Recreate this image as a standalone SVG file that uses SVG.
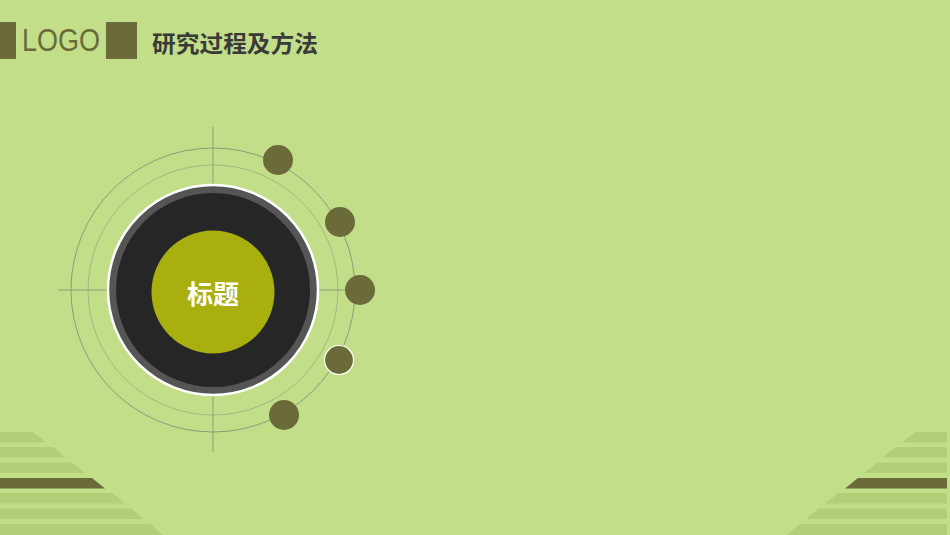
<svg xmlns="http://www.w3.org/2000/svg" width="950" height="535" viewBox="0 0 950 535">
<style>
.stripe{fill:#B4CE78}
.dark{fill:#6B6B3A}
.thin{fill:none;stroke:#8C9C7C;stroke-width:1}
.dot{fill:#6B6B3A}
</style>
<rect width="950" height="535" fill="#C2DE88"/>
<g id="header">
<rect x="0" y="22" width="16" height="37" class="dark"/>
<text x="22" y="51" font-family="'Liberation Sans', sans-serif" font-size="31" fill="#6B6B3A" textLength="78" lengthAdjust="spacingAndGlyphs">LOGO</text>
<rect x="106" y="22" width="31" height="37" class="dark"/>
<text x="152" y="52" font-family="'Noto Sans CJK SC', sans-serif" font-weight="bold" font-size="23" fill="#3A3A3A" textLength="166" lengthAdjust="spacingAndGlyphs">研究过程及方法</text>
</g>
<g id="stripes-left">
<polygon class="stripe" points="0,432 33,432 46,442.5 0,442.5"/>
<polygon class="stripe" points="0,447 53,447 66,457.5 0,457.5"/>
<polygon class="stripe" points="0,462.5 72,462.5 85,473 0,473"/>
<polygon class="dark" points="0,478 92,478 105,488.5 0,488.5"/>
<polygon class="stripe" points="0,493 112,493 125,503.5 0,503.5"/>
<polygon class="stripe" points="0,508.5 131,508.5 144,519 0,519"/>
<polygon class="stripe" points="0,524 150,524 163,535 0,535"/>
</g>
<g id="stripes-right">
<polygon class="stripe" points="947,432 915,432 902,442.5 947,442.5"/>
<polygon class="stripe" points="947,447 896,447 883,457.5 947,457.5"/>
<polygon class="stripe" points="947,462.5 877,462.5 864,473 947,473"/>
<polygon class="dark" points="947,478 858,478 845,488.5 947,488.5"/>
<polygon class="stripe" points="947,493 838,493 825,503.5 947,503.5"/>
<polygon class="stripe" points="947,508.5 819,508.5 806,519 947,519"/>
<polygon class="stripe" points="947,524 800,524 787,535 947,535"/>
</g>
<g id="connectors">
<circle cx="213" cy="290" r="142" class="thin"/>
<circle cx="213" cy="290" r="125" class="thin" stroke-opacity="0.6"/>
<line x1="213" y1="127" x2="213" y2="452" class="thin"/>
<line x1="58" y1="290" x2="350" y2="290" class="thin"/>
</g>
<g id="center">
<circle cx="213" cy="290" r="105" fill="#555555" stroke="#FFFFFF" stroke-width="2.5"/>
<circle cx="213" cy="290" r="97" fill="#262626"/>
<circle cx="213" cy="292" r="61.5" fill="#A8AF0F"/>
<text x="213" y="304" text-anchor="middle" font-family="'Noto Sans CJK SC', sans-serif" font-weight="bold" font-size="26" fill="#FFFFFF">标题</text>
</g>
<g id="dot1"><circle cx="278" cy="160" r="15" class="dot"/></g>
<g id="dot2"><circle cx="340" cy="222" r="15" class="dot"/></g>
<g id="dot3"><circle cx="360" cy="290" r="15" class="dot"/></g>
<g id="dot4"><circle cx="339" cy="360" r="14.5" class="dot" stroke="#FFFFFF" stroke-width="1.2"/></g>
<g id="dot5"><circle cx="284" cy="415" r="15" class="dot"/></g>
</svg>
